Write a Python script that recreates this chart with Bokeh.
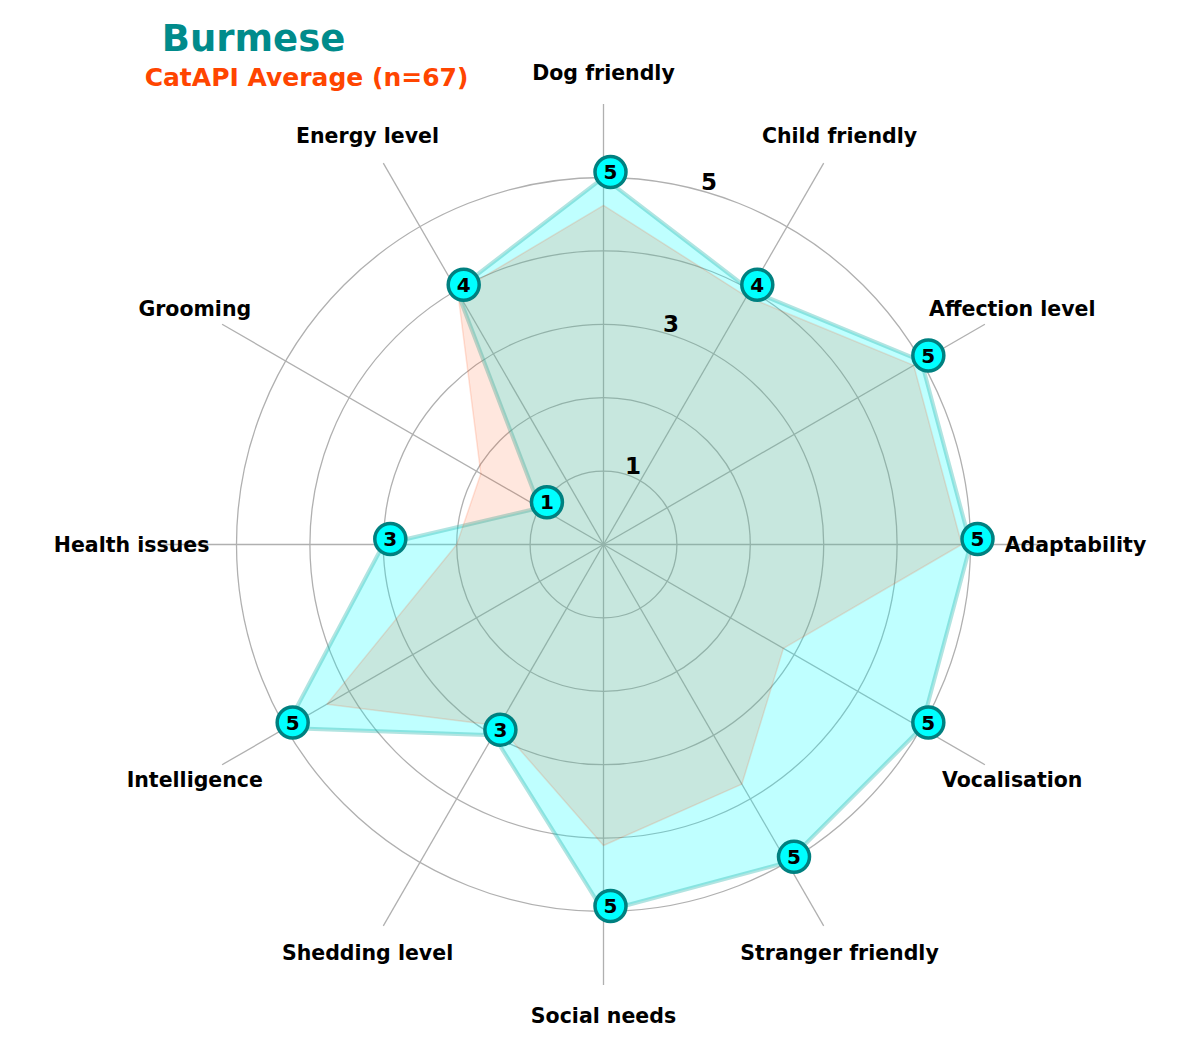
import numpy as np
from bokeh.plotting import figure
from bokeh.models import Range1d, Label
from bokeh.core.properties import value
from bokeh.embed import file_html
from bokeh.resources import INLINE

# ---- data ----
categories = ["Dog friendly", "Child friendly", "Affection level", "Adaptability",
              "Vocalisation", "Stranger friendly", "Social needs", "Shedding level",
              "Intelligence", "Health issues", "Grooming", "Energy level"]
burmese = [5, 4, 5, 5, 5, 5, 5, 3, 5, 3, 1, 4]
average = [4.62, 3.9, 4.88, 4.88, 2.83, 3.77, 4.1, 2.85, 4.35, 2.0, 1.93, 3.97]
rings = [1, 2, 3, 4, 5]
tick_values = [1, 3, 5]
tick_labels = ["1", "3", "5"]
title_text = "Burmese"
subtitle_text = "CatAPI Average (n=67)"

# ---- layout ----
W, H = 1200, 1050
CX, CY = 603, 544      # centre in pixels (from top-left)
S = 73.4               # pixels per unit
R_SPOKE = 6.0
R_LABEL = 6.43
FONT = value("DejaVu Sans")

p = figure(width=W, height=H, output_backend="svg", toolbar_location=None,
           x_range=Range1d(-CX / S, (W - CX) / S),
           y_range=Range1d(-(H - CY) / S, CY / S),
           x_axis_type=None, y_axis_type=None, min_border=0)
p.grid.visible = False
p.outline_line_color = None
p.background_fill_color = "white"
p.border_fill_color = "white"

n = len(categories)
theta = np.pi / 2 - np.arange(n) * 2 * np.pi / n
cos, sin = np.cos(theta), np.sin(theta)

# rings
p.circle(x=[0] * len(rings), y=[0] * len(rings), radius=rings,
         fill_color=None, line_color="#b0b0b0", line_width=1.3)
# spokes
p.segment(x0=[0] * n, y0=[0] * n, x1=R_SPOKE * cos, y1=R_SPOKE * sin,
          line_color="#b0b0b0", line_width=1.3)

# Burmese polygon
b = np.array(burmese, dtype=float)
p.patch(x=list(b * cos), y=list(b * sin), fill_color="#00ffff", fill_alpha=0.25,
        line_color="#20b2aa", line_alpha=0.35, line_width=4)

# average polygon
a = np.array(average, dtype=float)
p.patch(x=list(a * cos), y=list(a * sin), fill_color="#ff4500", fill_alpha=0.13,
        line_color="#ff4500", line_alpha=0.15, line_width=1.5)

# tick labels along 75 degrees
ta = np.deg2rad(75)
tv = np.array(tick_values, dtype=float)
p.text(x=list(tv * np.cos(ta)), y=list(tv * np.sin(ta)), text=tick_labels,
       x_offset=10.5, y_offset=-8.5, text_align="center", text_baseline="middle",
       text_font=FONT, text_font_style="bold", text_font_size="23px", text_color="black")

# axis labels
p.text(x=list(R_LABEL * cos), y=list(R_LABEL * sin), text=categories,
       text_align="center", text_baseline="middle", text_font=FONT,
       text_font_style="bold", text_font_size="20.5px", text_color="black")

# markers (slightly offset as in the reference)
mx = b * cos + 7 / S
my = b * sin + 5.5 / S
p.scatter(x=list(mx), y=list(my), size=31, fill_color="#00ffff",
          line_color="#008080", line_width=3.5)
p.text(x=list(mx), y=list(my), text=[str(v) for v in burmese],
       text_align="center", text_baseline="middle", text_font=FONT,
       text_font_style="bold", text_font_size="20px", text_color="black")

# titles
p.add_layout(Label(x=253, y=H - 38, x_units="screen", y_units="screen",
                   text=title_text, text_align="center", text_baseline="alphabetic",
                   text_font="DejaVu Sans", text_font_style="bold",
                   text_font_size="37px", text_color="#008b8b"))
p.add_layout(Label(x=306, y=H - 77, x_units="screen", y_units="screen",
                   text=subtitle_text, text_align="center", text_baseline="alphabetic",
                   text_font="DejaVu Sans", text_font_style="bold",
                   text_font_size="25px", text_color="#ff4500"))

open("out.html", "w").write(file_html(p, INLINE))
